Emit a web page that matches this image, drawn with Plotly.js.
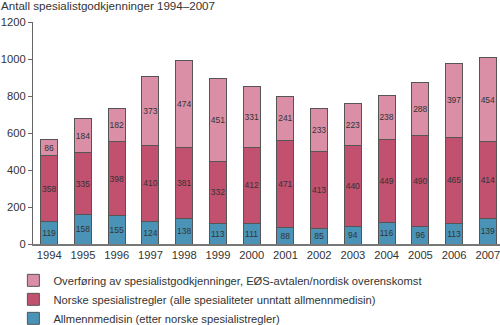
<!DOCTYPE html>
<html>
<head>
<meta charset="utf-8">
<script src="https://cdn.plot.ly/plotly-3.0.1.min.js"></script>
<style>html,body{margin:0;padding:0;background:#fff}#chart{width:500px;height:325px}</style>
</head>
<body>
<div id="chart"></div>
<script>
const years = ['1994','1995','1996','1997','1998','1999','2000','2001','2002','2003','2004','2005','2006','2007'];
const allmenn = [119,158,155,124,138,113,111,88,85,94,116,96,113,139];
const norske = [358,335,398,410,381,332,412,471,413,440,449,490,465,414];
const overforing = [86,184,182,373,474,451,331,241,233,223,238,288,397,454];
const names = [
  'Allmennmedisin (etter norske spesialistregler)',
  'Norske spesialistregler (alle spesialiteter unntatt allmennmedisin)',
  'Overføring av spesialistgodkjenninger, EØS-avtalen/nordisk overenskomst'
];
const colors = ['#4b93b6','#c1516f','#db8fa6'];
const series = [allmenn, norske, overforing];

const font = 'Arial, "Liberation Sans", sans-serif';
const traces = series.map((vals, i) => ({
  type: 'bar',
  x: years,
  y: vals,
  name: names[i],
  text: vals.map(String),
  textposition: 'inside',
  insidetextanchor: 'middle',
  textangle: 0,
  textfont: {family: font, size: 8.5, color: '#333'},
  constraintext: 'none',
  marker: {color: colors[i], line: {color: '#555', width: 1}},
  width: 0.5,
  hoverinfo: 'skip'
}));

const layout = {
  width: 500, height: 325,
  margin: {l: 33, r: 0, t: 22, b: 81, autoexpand: false},
  paper_bgcolor: '#fff', plot_bgcolor: '#fff',
  barmode: 'stack',
  showlegend: true,
  font: {family: font, size: 11, color: '#333'},
  title: {text: 'Antall spesialistgodkjenninger 1994–2007', x: 0, xref: 'container', xanchor: 'left',
          y: 0.993, yref: 'container', yanchor: 'top', pad: {t: 0, l: 1},
          font: {family: font, size: 11.6, color: '#333'}},
  xaxis: {
    type: 'category', range: [-0.48, 13.36],
    showline: true, linecolor: '#777', linewidth: 1.5,
    ticks: '', showgrid: false, zeroline: false,
    tickfont: {family: font, size: 11.2, color: '#333'}
  },
  yaxis: {
    range: [0, 1200], tickvals: [0,200,400,600,800,1000,1200],
    showline: true, linecolor: '#666', linewidth: 1,
    ticks: 'outside', ticklen: 4, tickcolor: '#666',
    showgrid: false, zeroline: false,
    tickfont: {family: font, size: 11.2, color: '#333'}
  },
  legend: {
    orientation: 'v', traceorder: 'reversed',
    x: -0.042, xanchor: 'left', xref: 'paper',
    y: 0.182, yref: 'container', yanchor: 'top',
    font: {family: font, size: 11.2, color: '#333'},
    bgcolor: 'rgba(0,0,0,0)', itemclick: false
  }
};
Plotly.newPlot('chart', traces, layout, {displayModeBar: false, staticPlot: true});
</script>
</body>
</html>
